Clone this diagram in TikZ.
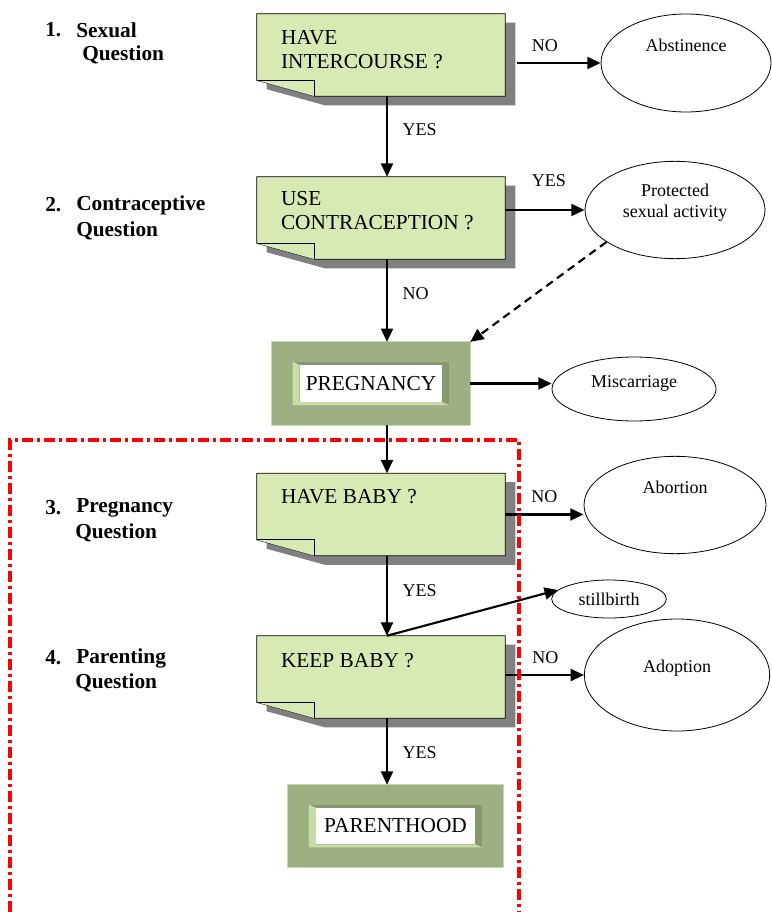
\documentclass[tikz,border=0pt]{standalone}
\usepackage{fontspec}
\setmainfont{Liberation Serif}
\usetikzlibrary{arrows.meta, positioning, calc, backgrounds, shapes.geometric}

\definecolor{notegreen}{RGB}{216,234,180}
\definecolor{shadowgray}{RGB}{128,128,128}
\definecolor{framegreen}{RGB}{158,175,132}
\definecolor{bevellight}{RGB}{200,220,165}
\definecolor{beveldark}{RGB}{136,152,110}

\tikzset{
  question/.style={
    rectangle,
    minimum width=186pt,
    minimum height=61.5pt,
    inner sep=0pt
  },
  qtext/.style={
    inner sep=0pt,
    align=left,
    font=\fontsize{16}{18}\selectfont
  },
  outcome/.style={
    draw,
    ellipse,
    line width=0.6pt,
    inner sep=0pt
  },
  outtext/.style={
    align=center,
    inner sep=0pt,
    font=\fontsize{13.5}{16}\selectfont
  },
  lbl/.style={
    inner sep=0pt,
    font=\fontsize{13.5}{16}\selectfont
  },
  qlabel/.style={
    anchor=west,
    inner sep=0pt,
    font=\bfseries\fontsize{16}{19}\selectfont
  },
  result/.style={
    rectangle,
    inner sep=0pt,
    font=\fontsize{16}{19}\selectfont
  },
  arrow/.style={
    -{Triangle[length=10pt,width=9pt]},
    line width=1.6pt
  },
  zone/.style={
    red,
    line width=2.6pt,
    dash pattern=on 8pt off 3pt on 2.5pt off 3pt
  }
}

% folded note outline, shifted by (#2,#3)
\newcommand{\notepath}[3]{($(#1.north west)+(#2,#3)$) -- ($(#1.north east)+(#2,#3)$)
  -- ($(#1.south east)+(#2,#3)$) -- ($(#1.south west)+(58+#2,#3)$)
  -- ($(#1.south west)+(#2,#3-16)$) -- cycle}

\newcommand{\drawnote}[1]{%
  \begin{scope}[on background layer]
    \fill[shadowgray] \notepath{#1}{10}{9};
    \draw[fill=notegreen, line width=0.6pt] \notepath{#1}{0}{0};
    \draw[fill=notegreen, line width=0.6pt] ($(#1.south west)+(0,-16)$) -- ++(58,0) -- ++(0,16);
  \end{scope}}

\newcommand{\drawframe}[1]{%
  \begin{scope}[on background layer]
    \fill[framegreen] (#1.north west) rectangle (#1.south east);
    \draw[bevellight, line width=0.8pt] (#1.north west) rectangle (#1.south east);
    \fill[beveldark] ($(#1.north west)+(21,20)$) rectangle ($(#1.south east)+(-21,-20)$);
    \fill[bevellight] ($(#1.north west)+(21,20)$) -- ($(#1.north west)+(28,23)$)
      -- ($(#1.south west)+(28,-23)$) -- ($(#1.south east)+(-28,-23)$)
      -- ($(#1.south east)+(-21,-20)$) -- ($(#1.south west)+(21,-20)$) -- cycle;
    \fill[white] ($(#1.north west)+(28,23)$) rectangle ($(#1.south east)+(-28,-23)$);
  \end{scope}}

\begin{document}
\begin{tikzpicture}[x=0.75pt, y=-0.75pt]
\useasboundingbox (0,0) rectangle (771,912);

% --- question boxes ---
\node[question] (q1) at (381,55) {};
\node[question] (q2) at (381,218) {};
\node[question] (q3) at (381,514.5) {};
\node[question] (q4) at (381,677) {};
\drawnote{q1}
\drawnote{q2}
\drawnote{q3}
\drawnote{q4}
\node[qtext, below right=12pt and 18pt of q1.north west] (t1) {HAVE\\INTERCOURSE ?};
\node[qtext, below right=11pt and 18pt of q2.north west] (t2) {USE\\CONTRACEPTION ?};
\node[qtext, below right=12pt and 18pt of q3.north west] (t3) {HAVE BABY ?};
\node[qtext, below right=13pt and 18pt of q4.north west] (t4) {KEEP BABY ?};

% --- framed states ---
\node[result, minimum width=148.5pt, minimum height=62pt] (preg) at (371,383.5) {PREGNANCY};
\node[result, minimum width=161pt, minimum height=61.5pt] (parent) at (395.5,826) {PARENTHOOD};
\drawframe{preg}
\drawframe{parent}

% --- outcomes ---
\node[outcome, minimum width=127.5pt, minimum height=73.5pt] (abst) at (686,63) {};
\node[outcome, minimum width=135pt, minimum height=73pt] (prot) at (675,210) {};
\node[outcome, minimum width=123pt, minimum height=48pt] (misc) at (634,389) {};
\node[outcome, minimum width=136.5pt, minimum height=73pt] (abort) at (675,505) {};
\node[outcome, minimum width=86pt, minimum height=28.5pt] (still) at (609,599) {};
\node[outcome, minimum width=139pt, minimum height=84pt] (adopt) at (677,675) {};
\node[outtext] (abst-t) at ([yshift=13.5pt]abst.center) {Abstinence};
\node[outtext] (prot-t) at ([yshift=5.6pt]prot.center) {Protected\\sexual activity};
\node[outtext] (misc-t) at ([yshift=4.5pt]misc.center) {Miscarriage};
\node[outtext] (abort-t) at ([yshift=13.5pt]abort.center) {Abortion};
\node[outtext] (still-t) at (still.center) {stillbirth};
\node[outtext] (adopt-t) at ([yshift=5pt]adopt.center) {Adoption};

% --- stage labels ---
\node[qlabel] (n1) at (45,30) {1.};
\node[qlabel] (l1a) at (76,30) {Sexual};
\node[qlabel] (l1b) at (82,55) {Question};
\node[qlabel] (n2) at (45,205) {2.};
\node[qlabel] (l2a) at (76,205) {Contraceptive};
\node[qlabel] (l2b) at (76,231) {Question};
\node[qlabel] (n3) at (45,508) {3.};
\node[qlabel] (l3a) at (76,508) {Pregnancy};
\node[qlabel] (l3b) at (75,533) {Question};
\node[qlabel] (n4) at (45,658) {4.};
\node[qlabel] (l4a) at (76,658) {Parenting};
\node[qlabel] (l4b) at (75,683) {Question};

% --- main line ---
\coordinate (spine) at (387,0);
\draw[arrow] (q1.south -| spine) -- (q2.north -| spine)
  node[lbl, pos=0.41, anchor=west, xshift=11pt] {YES};
\draw[arrow] (q2.south -| spine) -- (preg.north -| spine)
  node[lbl, pos=0.42, anchor=west, xshift=11pt] {NO};
\draw[arrow] (preg.south -| spine) -- (q3.north -| spine);
\draw[arrow] (q3.south -| spine) -- (q4.north -| spine)
  node[lbl, pos=0.43, anchor=west, xshift=11pt] {YES};
\draw[arrow] (q4.south -| spine) -- (parent.north -| spine)
  node[lbl, pos=0.52, anchor=west, xshift=11pt] {YES};

% --- side branches ---
\draw[arrow] ($(q1.east |- abst.west)+(12,0)$) -- (abst.west)
  node[lbl, pos=0.33, above=8pt] {NO};
\draw[arrow] (q2.east |- prot.west) -- (prot.west)
  node[lbl, pos=0.55, above=17pt] {YES};
\draw[arrow] (preg.east) -- (preg.east -| misc.west);
\draw[arrow] (q3.east) -- (q3.east -| abort.west)
  node[lbl, pos=0.5, above=8pt] {NO};
\draw[arrow] (q4.east |- adopt.west) -- (adopt.west)
  node[lbl, pos=0.51, above=8pt] {NO};
\draw[arrow] (q4.north -| spine) -- (still.170);
\draw[arrow, dash pattern=on 6pt off 4pt] (prot.205) -- (preg.north east);

% --- second phase zone ---
\draw[zone] (10,912) -- (10,440) -- (519,440) -- (519,912);

\end{tikzpicture}
\end{document}
